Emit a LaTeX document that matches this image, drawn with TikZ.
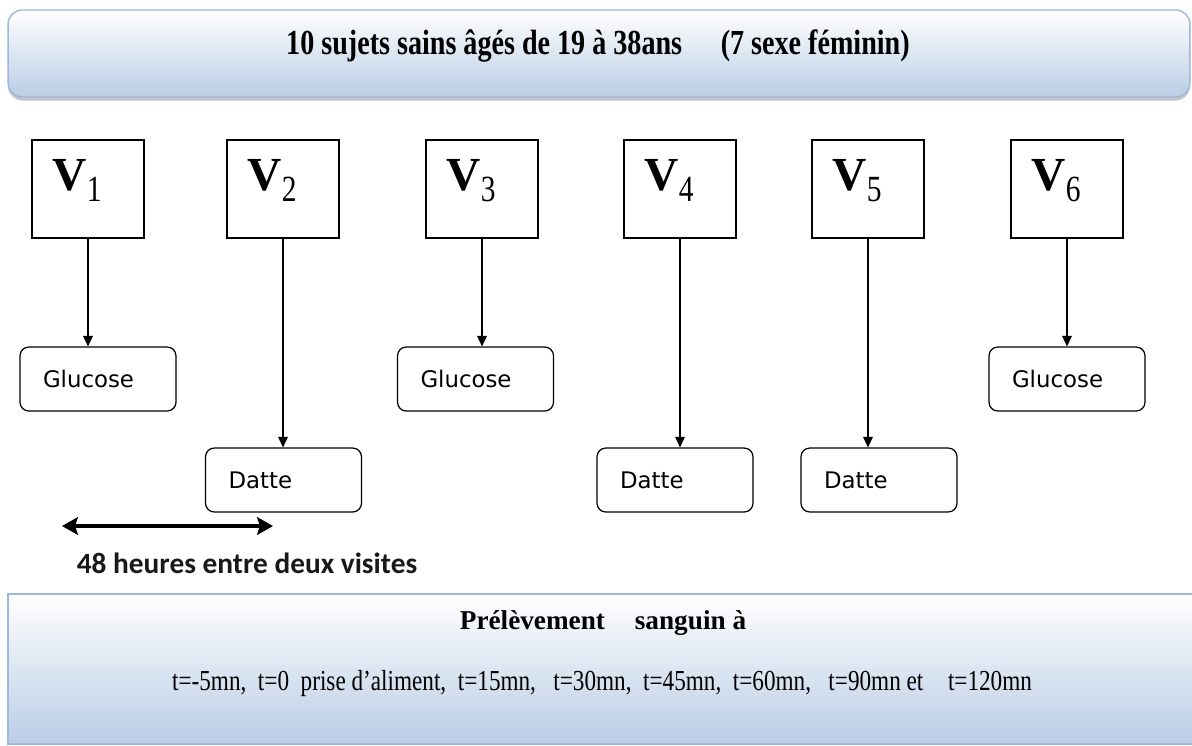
\documentclass[tikz,border=0pt]{standalone}
\usepackage{fontspec}
\setmainfont{Liberation Serif}
\newfontfamily\condserif[FakeStretch=0.8]{Liberation Serif}
\newfontfamily\boxsans{DejaVu Sans}
\newfontfamily\notesans{Carlito}
\usepackage{xcolor}
\usetikzlibrary{arrows.meta,shadows,positioning}

\definecolor{bannerblue}{HTML}{B9CDE5}
\definecolor{bannermid}{HTML}{E3EAF4}
\definecolor{bannerline}{HTML}{9DB8DA}

% name of a visit: bold V with a lowered number
\newcommand{\visitname}[1]{{\fontsize{27}{29}\selectfont\bfseries V}\raisebox{-6pt}{\condserif\fontsize{21}{23}\selectfont #1}}

\begin{document}
\begin{tikzpicture}[x=0.02cm, y=-0.02cm, >={Triangle[length=6pt,width=5.5pt]}]

    % Parameters (in pixels of the sheet)
    \def\W{1192} % width of the sheet
    \def\H{745}  % height of the sheet
    \def\rowV{189} % centre of the visit boxes
    \def\rowG{379} % centre of the glucose boxes
    \def\rowD{480} % centre of the date boxes

    \tikzset{
        banner/.style={draw=bannerline, line width=0.8pt, top color=white, middle color=bannermid, bottom color=bannerblue, inner sep=0pt},
        visit/.style={draw, line width=0.8pt, minimum width=2.24cm, minimum height=1.96cm, inner sep=0pt},
        vlabel/.style={anchor=north west, inner sep=0pt},
        meal/.style={draw, line width=0.7pt, rounded corners=5pt, minimum height=1.28cm, text width=2.2cm, inner xsep=0.46cm, align=left, font=\boxsans\fontsize{13}{15}\selectfont},
        link/.style={->, line width=0.7pt},
    }

    % Sheet
    \clip (0,0) rectangle (\W,\H);
    \fill[white] (0,0) rectangle (\W,\H);

    % Top banner: the subjects
    \node[banner, rounded corners=8pt, minimum width=23.64cm, minimum height=1.74cm,
          drop shadow={shadow xshift=0pt, shadow yshift=-2pt, opacity=0.45}] (sujets) at (599,53.5) {};
    \node[font=\condserif\bfseries\fontsize{20}{22}\selectfont] (sujetstxt) at (598,46)
        {10 sujets sains âgés de 19 à 38ans\hspace{22pt}(7 sexe féminin)};

    % Visits
    \node[visit] (v1) at (88,\rowV) {};
    \node[visit] (v2) at (283,\rowV) {};
    \node[visit] (v3) at (482,\rowV) {};
    \node[visit] (v4) at (680,\rowV) {};
    \node[visit] (v5) at (868,\rowV) {};
    \node[visit] (v6) at (1067,\rowV) {};

    % Visit names
    \node[vlabel] (vl1) at ([xshift=0.42cm, yshift=-0.4cm]v1.north west) {\visitname{1}};
    \node[vlabel] (vl2) at ([xshift=0.42cm, yshift=-0.4cm]v2.north west) {\visitname{2}};
    \node[vlabel] (vl3) at ([xshift=0.42cm, yshift=-0.4cm]v3.north west) {\visitname{3}};
    \node[vlabel] (vl4) at ([xshift=0.42cm, yshift=-0.4cm]v4.north west) {\visitname{4}};
    \node[vlabel] (vl5) at ([xshift=0.42cm, yshift=-0.4cm]v5.north west) {\visitname{5}};
    \node[vlabel] (vl6) at ([xshift=0.42cm, yshift=-0.4cm]v6.north west) {\visitname{6}};

    % Test meals
    \node[meal] (g1) at (98,\rowG) {Glucose};
    \node[meal] (d2) at (283.5,\rowD) {Datte};
    \node[meal] (g3) at (475.5,\rowG) {Glucose};
    \node[meal] (d4) at (675,\rowD) {Datte};
    \node[meal] (d5) at (879,\rowD) {Datte};
    \node[meal] (g6) at (1067,\rowG) {Glucose};

    % Links visit -> meal
    \draw[link] (v1.south) -- (v1.south |- g1.north);
    \draw[link] (v2.south) -- (v2.south |- d2.north);
    \draw[link] (v3.south) -- (v3.south |- g3.north);
    \draw[link] (v4.south) -- (v4.south |- d4.north);
    \draw[link] (v5.south) -- (v5.south |- d5.north);
    \draw[link] (v6.south) -- (v6.south |- g6.north);

    % Gap between two visits
    \coordinate (gapL) at (62,526);
    \coordinate (gapR) at (273,526);
    \draw[{Stealth[length=9pt,width=10pt,inset=1.5pt]}-{Stealth[length=9pt,width=10pt,inset=1.5pt]}, line width=2.6pt] (gapL) -- (gapR);
    \node[font=\notesans\bfseries\fontsize{16.7}{18}\selectfont, text=black!90] (gaptxt) at (247,563) {48 heures entre deux visites};

    % Bottom banner: blood sampling
    \node[banner, minimum width=23.84cm, minimum height=3cm] (prelev) at (604,669) {};
    \node[font=\bfseries\fontsize{15.5}{17}\selectfont] (prelevtitle) at (603,623) {Prélèvement\hspace{17pt}sanguin à};
    \node[font=\condserif\fontsize{16.5}{18}\selectfont] (prelevtimes) at (602,684)
        {t=-5mn,\ \ t=0\ \ prise d’aliment,\ \ t=15mn,\ \ \ t=30mn,\ \ t=45mn,\ \ t=60mn,\ \ \ t=90mn et\hspace{14pt}t=120mn};

\end{tikzpicture}
\end{document}
